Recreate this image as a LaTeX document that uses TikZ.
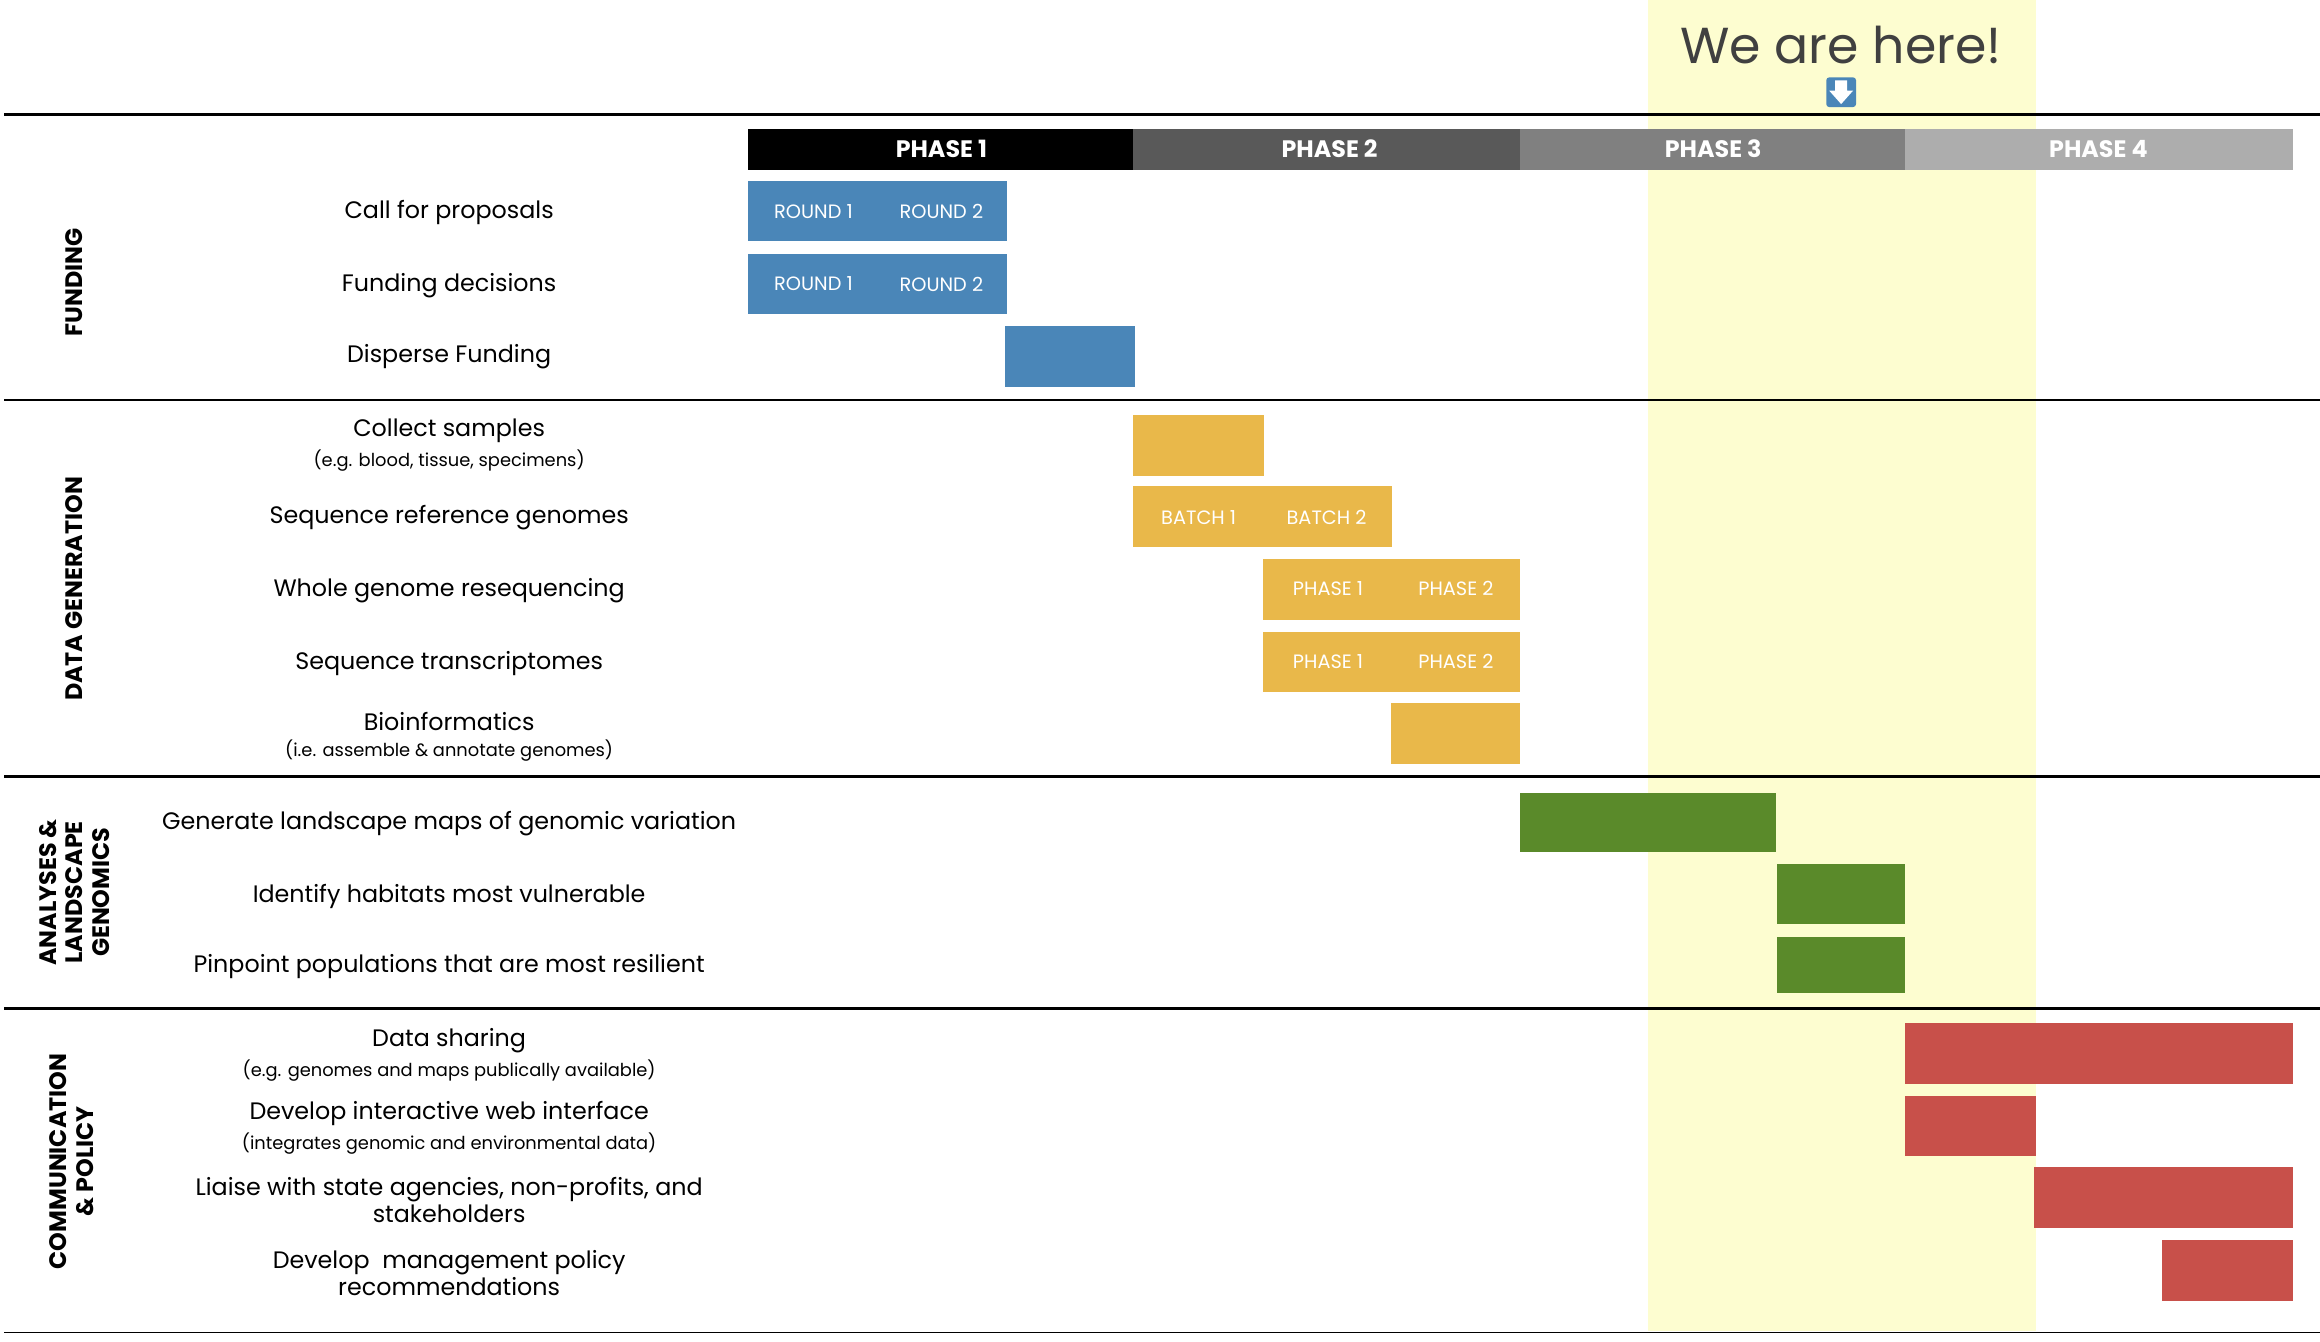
\documentclass[tikz,border=0pt]{standalone}
\usepackage{fontspec}
\setmainfont{Poppins}
\begin{document}
\begin{tikzpicture}[x=1pt,y=-1pt,
 lbl/.style={font=\fontsize{16}{18}\selectfont, align=center},
 sm/.style={font=\fontsize{12}{14}\selectfont},
 bar/.style={draw=none,fill=#1},
 intxt/.style={text=white,font=\fontsize{13}{15}\selectfont},
 ph/.style={text=white,font=\fontsize{16}{18}\selectfont\bfseries},
 sec/.style={rotate=90,font=\fontsize{16}{18}\selectfont\bfseries,align=center},
 sep/.style={line width=1.6pt}]
\definecolor{fblue}{HTML}{4A86B8}\definecolor{dyel}{HTML}{E9B84A}
\definecolor{agrn}{HTML}{5A8A2A}\definecolor{cred}{HTML}{C8504A}
\definecolor{hl}{HTML}{FDFDD0}
\useasboundingbox (0,0) rectangle (1560,902);
\fill[white] (0,0) rectangle (1560,902);
\fill[hl] (1108,0) rectangle (1369,895);
\node[font=\fontsize{34}{38}\selectfont,text=black!75] (here) at (1238,30) {We are here!};
\node[fill=fblue,rounded corners=2pt,minimum size=20pt,inner sep=0] (arr) at (1238,62) {};
\fill[white] (1234,54) rectangle (1242,61) -- (1246,61) -- (1238,70) -- (1230,61) -- (1234,61);
\draw[sep] (3,77) -- (1560,77);
\draw[sep] (3,269) -- (1560,269);
\draw[sep] (3,522) -- (1560,522);
\draw[sep] (3,678) -- (1560,678);
\draw[line width=1pt] (3,896) -- (1560,896);
% phases
\fill[black] (503,87) rectangle (762,114); \node[ph] (p1) at (633,100) {PHASE 1};
\fill[black!65] (762,87) rectangle (1022,114); \node[ph] (p2) at (894,100) {PHASE 2};
\fill[black!50] (1022,87) rectangle (1281,114); \node[ph] (p3) at (1152,100) {PHASE 3};
\fill[black!32] (1281,87) rectangle (1542,114); \node[ph] (p4) at (1411,100) {PHASE 4};
% sections
\node[sec] (s1) at (50,190) {FUNDING};
\node[sec] (s2) at (50,396) {DATA GENERATION};
\node[sec] (s3) at (50,600) {ANALYSES \&\\LANDSCAPE\\GENOMICS};
\node[sec] (s4) at (48,781) {COMMUNICATION\\\& POLICY};
% funding
\node[lbl] (l1) at (302,143) {Call for proposals};
\node[lbl] (l2) at (302,192) {Funding decisions};
\node[lbl] (l3) at (302,240) {Disperse Funding};
\fill[fblue] (503,122) rectangle (677,162); \node[intxt] at (547,142) {ROUND 1}; \node[intxt] at (633,142) {ROUND 2};
\fill[fblue] (503,171) rectangle (677,211); \node[intxt] at (547,191) {ROUND 1}; \node[intxt] at (633,191) {ROUND 2};
\fill[fblue] (676,219) rectangle (763,260);
% data gen
\node[lbl] (d1) at (302,290) {Collect samples}; \node[sm] at (302,310) {(e.g. blood, tissue, specimens)};
\node[lbl] (d2) at (302,348) {Sequence reference genomes};
\node[lbl] (d3) at (302,397) {Whole genome resequencing};
\node[lbl] (d4) at (302,446) {Sequence transcriptomes};
\node[lbl] (d5) at (302,485) {Bioinformatics}; \node[sm] at (302,505) {(i.e. assemble \& annotate genomes)};
\fill[dyel] (762,279) rectangle (850,320);
\fill[dyel] (762,327) rectangle (936,368); \node[intxt] at (806,348) {BATCH 1}; \node[intxt] at (892,348) {BATCH 2};
\fill[dyel] (849,376) rectangle (1022,417); \node[intxt] at (893,396) {PHASE 1}; \node[intxt] at (979,396) {PHASE 2};
\fill[dyel] (849,425) rectangle (1022,465); \node[intxt] at (893,445) {PHASE 1}; \node[intxt] at (979,445) {PHASE 2};
\fill[dyel] (935,473) rectangle (1022,514);
% analyses
\node[lbl] (a1) at (302,554) {Generate landscape maps of genomic variation};
\node[lbl] (a2) at (302,603) {Identify habitats most vulnerable};
\node[lbl] (a3) at (302,650) {Pinpoint populations that are most resilient};
\fill[agrn] (1022,533) rectangle (1194,573);
\fill[agrn] (1195,581) rectangle (1281,621);
\fill[agrn] (1195,630) rectangle (1281,668);
% comm
\node[lbl] (c1) at (302,700) {Data sharing}; \node[sm] at (302,720) {(e.g. genomes and maps publically available)};
\node[lbl] (c2) at (302,749) {Develop interactive web interface}; \node[sm] at (302,769) {(integrates genomic and environmental data)};
\node[lbl] (c3) at (302,807) {Liaise with state agencies, non-profits, and\\stakeholders};
\node[lbl] (c4) at (302,856) {Develop\ \ management policy\\recommendations};
\fill[cred] (1281,688) rectangle (1542,729);
\fill[cred] (1281,737) rectangle (1369,777);
\fill[cred] (1368,785) rectangle (1542,826);
\fill[cred] (1454,834) rectangle (1542,875);
\end{tikzpicture}
\end{document}
